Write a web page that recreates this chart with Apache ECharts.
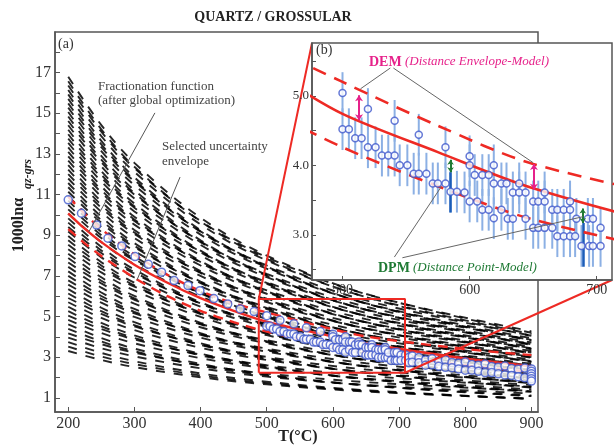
<!DOCTYPE html>
<html>
<head>
<meta charset="utf-8">
<script src="https://cdn.jsdelivr.net/npm/echarts@6.0.0/dist/echarts.min.js"></script>
<style>
  html, body { margin: 0; padding: 0; background: #fff; }
  #chart { width: 614px; height: 448px; }
</style>
</head>
<body>
<div id="chart"></div>
<script>
// temperatures (°C) at which every uncertainty model is sampled
const modelT = [200, 250, 300, 400, 500, 650, 900];
// 1000 ln alpha of each candidate model (black dashed family)
const modelCurves = [
  [3.30, 2.86, 2.51, 2.01, 1.66, 1.31, 0.95],
  [3.52, 3.03, 2.66, 2.10, 1.72, 1.34, 0.95],
  [3.74, 3.21, 2.80, 2.20, 1.79, 1.37, 0.95],
  [3.96, 3.44, 3.04, 2.45, 2.04, 1.63, 1.21],
  [4.17, 3.64, 3.22, 2.61, 2.19, 1.77, 1.34],
  [4.39, 3.77, 3.29, 2.58, 2.10, 1.61, 1.11],
  [4.61, 3.94, 3.42, 2.67, 2.14, 1.61, 1.08],
  [4.83, 4.19, 3.68, 2.95, 2.45, 1.94, 1.42],
  [5.04, 4.38, 3.87, 3.12, 2.60, 2.08, 1.55],
  [5.26, 4.52, 3.94, 3.09, 2.51, 1.92, 1.32],
  [5.48, 4.69, 4.07, 3.17, 2.55, 1.92, 1.29],
  [5.70, 4.93, 4.33, 3.46, 2.86, 2.25, 1.63],
  [5.91, 5.13, 4.51, 3.62, 3.01, 2.39, 1.76],
  [6.13, 5.26, 4.58, 3.60, 2.92, 2.23, 1.53],
  [6.35, 5.43, 4.72, 3.68, 2.96, 2.23, 1.50],
  [6.57, 5.68, 4.98, 3.96, 3.27, 2.56, 1.84],
  [6.78, 5.87, 5.16, 4.13, 3.42, 2.70, 1.97],
  [7.00, 6.01, 5.23, 4.10, 3.33, 2.54, 1.74],
  [7.22, 6.18, 5.37, 4.18, 3.37, 2.54, 1.71],
  [7.44, 6.42, 5.63, 4.47, 3.68, 2.87, 2.05],
  [7.66, 6.63, 5.82, 4.64, 3.83, 3.01, 2.18],
  [7.88, 6.76, 5.89, 4.61, 3.74, 2.85, 1.95],
  [8.09, 6.93, 6.01, 4.69, 3.78, 2.85, 1.92],
  [8.31, 7.17, 6.28, 4.98, 4.08, 3.18, 2.26],
  [8.53, 7.37, 6.47, 5.15, 4.24, 3.32, 2.39],
  [8.75, 7.51, 6.53, 5.12, 4.15, 3.16, 2.16],
  [8.96, 7.67, 6.66, 5.20, 4.19, 3.16, 2.13],
  [9.18, 7.91, 6.92, 5.48, 4.49, 3.49, 2.47],
  [9.40, 8.12, 7.11, 5.65, 4.65, 3.63, 2.60],
  [9.62, 8.25, 7.18, 5.63, 4.56, 3.47, 2.37],
  [9.83, 8.42, 7.31, 5.70, 4.60, 3.47, 2.34],
  [10.05, 8.66, 7.57, 5.98, 4.89, 3.79, 2.67],
  [10.27, 8.86, 7.76, 6.16, 5.06, 3.94, 2.81],
  [10.49, 9.00, 7.83, 6.13, 4.96, 3.78, 2.58],
  [10.70, 9.16, 7.96, 6.21, 5.01, 3.78, 2.55],
  [10.92, 9.40, 8.22, 6.49, 5.30, 4.10, 2.88],
  [11.14, 9.61, 8.41, 6.67, 5.47, 4.25, 3.02],
  [11.36, 9.74, 8.48, 6.64, 5.37, 4.09, 2.79],
  [11.57, 9.91, 8.61, 6.72, 5.42, 4.09, 2.76],
  [11.79, 10.15, 8.86, 7.00, 5.71, 4.41, 3.09],
  [12.01, 10.35, 9.06, 7.17, 5.88, 4.56, 3.23],
  [12.23, 10.49, 9.13, 7.14, 5.78, 4.40, 3.00],
  [12.45, 10.66, 9.26, 7.23, 5.83, 4.40, 2.97],
  [12.67, 10.90, 9.52, 7.51, 6.12, 4.72, 3.30],
  [12.88, 11.10, 9.70, 7.68, 6.29, 4.87, 3.44],
  [13.10, 11.23, 9.77, 7.65, 6.19, 4.71, 3.21],
  [13.32, 11.41, 9.91, 7.73, 6.24, 4.71, 3.18],
  [13.54, 11.65, 10.17, 8.01, 6.53, 5.03, 3.51],
  [13.75, 11.84, 10.35, 8.19, 6.69, 5.18, 3.65],
  [13.97, 11.98, 10.42, 8.16, 6.60, 5.02, 3.42],
  [14.19, 12.15, 10.56, 8.24, 6.65, 5.02, 3.39],
  [14.41, 12.39, 10.81, 8.52, 6.94, 5.34, 3.72],
  [14.62, 12.59, 11.00, 8.69, 7.10, 5.48, 3.85],
  [14.84, 12.72, 11.07, 8.66, 7.01, 5.33, 3.63],
  [15.06, 12.90, 11.21, 8.75, 7.05, 5.33, 3.60],
  [15.28, 13.14, 11.46, 9.03, 7.35, 5.65, 3.93],
  [15.49, 13.33, 11.65, 9.19, 7.51, 5.79, 4.06],
  [15.71, 13.47, 11.72, 9.17, 7.42, 5.64, 3.84],
  [15.93, 13.64, 11.85, 9.25, 7.46, 5.64, 3.81],
  [16.15, 13.88, 12.11, 9.53, 7.76, 5.96, 4.14],
  [16.37, 14.09, 12.30, 9.70, 7.92, 6.10, 4.27],
  [16.58, 14.21, 12.37, 9.68, 7.83, 5.95, 4.05],
  [16.80, 14.42, 12.56, 9.86, 8.00, 6.11, 4.20]
];

// fractionation function and its envelope
const fitT     = [200, 225, 250, 300, 350, 400, 450, 500, 575, 650, 800, 900];
const fitMain  = [10.08, 9.32, 8.66, 7.55, 6.66, 5.90, 5.28, 4.74, 4.19, 3.67, 2.93, 2.55];
const fitUpper = [10.90, 10.05, 9.30, 8.05, 7.05, 6.25, 5.65, 5.20, 4.57, 4.02, 3.40, 3.10];
const fitLower = [9.30, 8.60, 7.98, 6.90, 6.00, 5.28, 4.72, 4.26, 3.70, 3.22, 2.60, 2.28];

// calibration data (T, 1000 ln alpha)
const lowPoints = [[200,10.74],[220,10.08],[243,9.50],[260,8.85],[281,8.47],[301,7.95],[321,7.57],
  [341,7.18],[360,6.77],[381,6.52],[399,6.27],[420,5.88],[441,5.62],[460,5.37],[481,5.24]];
const midPoints = [[500,5.04],[500,4.52],[505,4.52],[510,4.39],[515,4.39],[520,4.81],[520,4.26],
  [526,4.26],[531,4.14],[536,4.14],[541,4.64],[541,4.14],[545,4.00],[551,4.00],[556,3.88],
  [560,3.88],[560,4.44],[566,3.88],[571,3.74],[575,3.74],[581,4.26],[581,3.74],[585,3.62],
  [590,3.62],[596,3.61],[600,4.13],[600,4.00],[600,3.48],[604,3.86],[606,3.48],[610,3.86],
  [610,3.36],[615,3.86],[615,3.36],[619,4.00],[619,3.74],[619,3.24],[625,3.74],[625,3.36],
  [629,3.74],[630,3.23],[634,3.61],[634,3.23],[639,3.74],[639,3.61],[644,3.61],[644,3.23],
  [650,3.48],[650,3.10],[654,3.48],[654,3.10],[659,3.61],[659,3.48],[659,3.10],[665,3.36],
  [665,3.10],[669,3.36],[669,2.98],[674,3.36],[674,2.98],[679,3.48],[679,3.36],[679,2.98],
  [683,2.98],[684,3.23],[688,2.84],[693,3.23],[694,2.84],[697,3.23],[697,2.84],[703,3.10],[703,2.84]];
const highPoints = [[710,3.10],[710,2.84],[715,2.98],[715,2.72],[720,3.05],[720,2.75],[730,2.98],
  [730,2.72],[740,2.86],[740,2.60],[750,2.92],[750,2.62],[760,2.80],[760,2.55],[770,2.86],
  [770,2.50],[780,2.74],[780,2.48],[790,2.70],[790,2.42],[800,2.76],[800,2.36],[810,2.64],
  [810,2.36],[820,2.60],[820,2.30],[830,2.66],[830,2.24],[840,2.54],[840,2.24],[850,2.50],
  [850,2.18],[860,2.56],[860,2.12],[870,2.44],[870,2.10],[880,2.40],[880,2.04],[890,2.46],
  [890,1.98],[900,2.42],[900,2.30],[900,2.18],[900,2.06],[900,1.94],[900,1.82]];
const ERR = 0.3;

// zoomed window shown in (b)
const boxT = [488, 709];
const boxV = [2.23, 5.86];

// highlighted distances in (b)
const dpmBars = [[[585, 3.32], [585, 3.90]], [[689, 2.54], [689, 3.17]]];
const dpmArrows = [[[585, 3.90], [585, 4.08]], [[689, 3.17], [689, 3.38]]];
const demArrows = [[[513, 5.01], [513, 4.65]], [[650.6, 4.02], [650.6, 3.65]]];

// leader lines (data coordinates of each panel)
const leadersA = [[[331, 15.02], [231, 9.16]], [[369, 11.86], [304, 6.80]]];
const leadersB = [[[537.6, 5.40], [514.1, 5.10]], [[540, 5.40], [649.8, 4.04]],
  [[540.8, 2.68], [577.6, 3.69]], [[547.1, 2.67], [689, 3.26]]];

const SERIF = 'Liberation Serif, DejaVu Serif, serif';
const RED = '#ee2a24';
const BLUE = '#3f58cc';

const chart = echarts.init(document.getElementById('chart'));

const series = [];
modelCurves.forEach(function (c) {
  series.push({
    type: 'line', xAxisIndex: 0, yAxisIndex: 0, z: 2, silent: true,
    data: modelT.map(function (t, i) { return [t, c[i]]; }),
    smooth: 0.35, showSymbol: false,
    lineStyle: { color: '#000', width: 1.9, type: [9, 9], opacity: 0.85 }
  });
});

function fitLine(vals, dashed, xi, z, w) {
  return {
    type: 'line', xAxisIndex: xi, yAxisIndex: xi, z: z, silent: true,
    data: fitT.map(function (t, i) { return [t, vals[i]]; }),
    smooth: 0.3, showSymbol: false,
    lineStyle: { color: RED, width: w, type: dashed ? (xi ? [14, 9] : [10, 7]) : 'solid' }
  };
}

series.push(fitLine(fitUpper, true, 0, 3, 2.4));
series.push(fitLine(fitLower, true, 0, 3, 2.4));
series.push(fitLine(fitMain, false, 0, 3, 2.4));
series.push({
  type: 'scatter', xAxisIndex: 0, yAxisIndex: 0, z: 4, silent: true,
  data: lowPoints.concat(midPoints, highPoints),
  symbol: 'circle', symbolSize: 8,
  itemStyle: { color: '#fff', borderColor: BLUE, borderWidth: 1.5 }
});
series.push({
  type: 'line', xAxisIndex: 0, yAxisIndex: 0, z: 5, silent: true, showSymbol: false,
  data: [[boxT[0], boxV[0]], [boxT[1], boxV[0]], [boxT[1], boxV[1]], [boxT[0], boxV[1]], [boxT[0], boxV[0]]],
  lineStyle: { color: RED, width: 2 }
});
series.push({
  type: 'lines', coordinateSystem: 'cartesian2d', xAxisIndex: 0, yAxisIndex: 0, z: 6, silent: true,
  data: leadersA.map(function (c) { return { coords: c }; }),
  lineStyle: { color: '#555', width: 1, opacity: 1 }
});

// inset (b)
series.push({
  type: 'custom', xAxisIndex: 1, yAxisIndex: 1, z: 11, silent: true,
  data: midPoints,
  renderItem: function (params, api) {
    const t = api.value(0), v = api.value(1);
    const a = api.coord([t, v - ERR]), b = api.coord([t, v + ERR]);
    return { type: 'line', shape: { x1: a[0], y1: a[1], x2: b[0], y2: b[1] },
      style: { stroke: '#8cb0e4', lineWidth: 2 } };
  }
});
series.push({
  type: 'lines', coordinateSystem: 'cartesian2d', xAxisIndex: 1, yAxisIndex: 1, z: 12, silent: true,
  data: dpmBars.map(function (c) { return { coords: c }; }),
  lineStyle: { color: '#1b5db8', width: 2.5, opacity: 1 }
});
series.push(fitLine(fitUpper, true, 1, 12, 2.6));
series.push(fitLine(fitLower, true, 1, 12, 2.6));
series.push(fitLine(fitMain, false, 1, 12, 2.6));
series.push({
  type: 'scatter', xAxisIndex: 1, yAxisIndex: 1, z: 13, silent: true,
  data: midPoints, symbol: 'circle', symbolSize: 7,
  itemStyle: { color: '#fff', borderColor: BLUE, borderWidth: 1.5 }
});
series.push({
  type: 'lines', coordinateSystem: 'cartesian2d', xAxisIndex: 1, yAxisIndex: 1, z: 14, silent: true,
  data: demArrows.map(function (c) { return { coords: c }; }),
  symbol: ['arrow', 'arrow'], symbolSize: 6,
  lineStyle: { color: '#e6218a', width: 2, opacity: 1 }
});
series.push({
  type: 'lines', coordinateSystem: 'cartesian2d', xAxisIndex: 1, yAxisIndex: 1, z: 14, silent: true,
  data: dpmArrows.map(function (c) { return { coords: c }; }),
  symbol: ['arrow', 'arrow'], symbolSize: 5,
  lineStyle: { color: '#1f7a34', width: 2, opacity: 1 }
});
series.push({
  type: 'lines', coordinateSystem: 'cartesian2d', xAxisIndex: 1, yAxisIndex: 1, z: 14, silent: true,
  data: leadersB.map(function (c) { return { coords: c }; }),
  lineStyle: { color: '#666', width: 1, opacity: 1 }
});

const axisCol = '#555';
function txt(id, x, y, text, font, color, extra) {
  return { id: id, type: 'text', x: x, y: y, z: 20, silent: true,
    style: Object.assign({ text: text, font: font, fill: color || '#333',
      textVerticalAlign: 'middle' }, extra || {}) };
}

chart.setOption({
  animation: false,
  grid: [
    { left: 55, top: 32, width: 483, height: 380, show: true, borderColor: axisCol, borderWidth: 1.5, backgroundColor: '#fff', z: 0 },
    { left: 312, top: 43, width: 300, height: 237, show: true, borderColor: axisCol, borderWidth: 1.5, backgroundColor: '#fff', z: 10 }
  ],
  xAxis: [
    { gridIndex: 0, type: 'value', min: 180, max: 910,
      axisLine: { show: true, lineStyle: { color: axisCol, width: 1.5 } },
      axisTick: { inside: true, length: 5, customValues: [200, 300, 400, 500, 600, 700, 800, 900], lineStyle: { color: axisCol } },
      axisLabel: { customValues: [200, 300, 400, 500, 600, 700, 800, 900], fontFamily: SERIF, fontSize: 16, color: '#333', margin: 4 },
      splitLine: { show: false } },
    { gridIndex: 1, type: 'value', min: 476, max: 712, z: 12,
      axisLine: { show: true, lineStyle: { color: axisCol, width: 1.5 } },
      axisTick: { inside: true, length: 4, customValues: [500, 600, 700], lineStyle: { color: axisCol } },
      axisLabel: { customValues: [500, 600, 700], fontFamily: SERIF, fontSize: 14, color: '#333', margin: 3 },
      splitLine: { show: false } }
  ],
  yAxis: [
    { gridIndex: 0, type: 'value', min: 0.3, max: 19,
      axisLine: { show: true, lineStyle: { color: axisCol, width: 1.5 } },
      axisTick: { inside: true, length: 5, customValues: [1,2,3,4,5,6,7,8,9,10,11,12,13,14,15,16,17,18], lineStyle: { color: axisCol } },
      axisLabel: { customValues: [1,3,5,7,9,11,13,15,17], fontFamily: SERIF, fontSize: 16, color: '#333', margin: 4 },
      splitLine: { show: false } },
    { gridIndex: 1, type: 'value', min: 2.35, max: 5.76, z: 12,
      axisLine: { show: true, lineStyle: { color: axisCol, width: 1.5 } },
      axisTick: { inside: true, length: 4, customValues: [2.5, 3, 3.5, 4, 4.5, 5, 5.5], lineStyle: { color: axisCol } },
      axisLabel: { customValues: [3, 4, 5], formatter: function (v) { return v.toFixed(1); },
        fontFamily: SERIF, fontSize: 13, color: '#333', margin: 3 },
      splitLine: { show: false } }
  ],
  series: series,
  graphic: [
    txt('title', 273, 17, 'QUARTZ / GROSSULAR', 'bold 14px ' + SERIF, '#222', { textAlign: 'center' }),
    txt('pa', 58, 44, '(a)', '14px ' + SERIF, '#333'),
    txt('n1', 98, 87, 'Fractionation function', '13px ' + SERIF, '#444'),
    txt('n2', 98, 101, '(after global optimization)', '13px ' + SERIF, '#444'),
    txt('n3', 162, 147, 'Selected uncertainty', '13px ' + SERIF, '#444'),
    txt('n4', 162, 162, 'envelope', '13px ' + SERIF, '#444'),
    txt('pb', 316, 50, '(b)', '14px ' + SERIF, '#333'),
    txt('dem', 369, 62, 'DEM', 'bold 14px ' + SERIF, '#e6218a'),
    txt('demt', 405, 62, '(Distance Envelope-Model)', 'italic 13px ' + SERIF, '#e6218a'),
    txt('dpm', 378, 268, 'DPM', 'bold 14px ' + SERIF, '#1f7a34'),
    txt('dpmt', 413, 268, '(Distance Point-Model)', 'italic 13px ' + SERIF, '#1f7a34'),
    txt('xname', 298, 437, 'T(°C)', 'bold 16px ' + SERIF, '#222', { textAlign: 'center' }),
    Object.assign(txt('yname', 19, 225, '1000lnα', 'bold 16px ' + SERIF, '#222', { textAlign: 'center' }), { rotation: Math.PI / 2 }),
    Object.assign(txt('ysub', 28, 174, 'qz-grs', 'bold italic 12px ' + SERIF, '#222', { textAlign: 'center' }), { rotation: Math.PI / 2 })
  ]
});

// red connectors between the zoom box and panel (b)
const p1 = chart.convertToPixel({ xAxisIndex: 0, yAxisIndex: 0 }, [boxT[0], boxV[1]]);
const p2 = chart.convertToPixel({ xAxisIndex: 0, yAxisIndex: 0 }, [boxT[1], boxV[0]]);
const q1 = chart.convertToPixel({ xAxisIndex: 1, yAxisIndex: 1 }, [476, 5.76]);
const q2 = chart.convertToPixel({ xAxisIndex: 1, yAxisIndex: 1 }, [712, 2.35]);
chart.setOption({
  graphic: [
    { id: 'conn1', type: 'line', z: 9, silent: true, shape: { x1: p1[0], y1: p1[1], x2: q1[0], y2: q1[1] }, style: { stroke: RED, lineWidth: 2 } },
    { id: 'conn2', type: 'line', z: 9, silent: true, shape: { x1: p2[0], y1: p2[1], x2: q2[0], y2: q2[1] }, style: { stroke: RED, lineWidth: 2 } }
  ]
});
</script>
</body>
</html>
